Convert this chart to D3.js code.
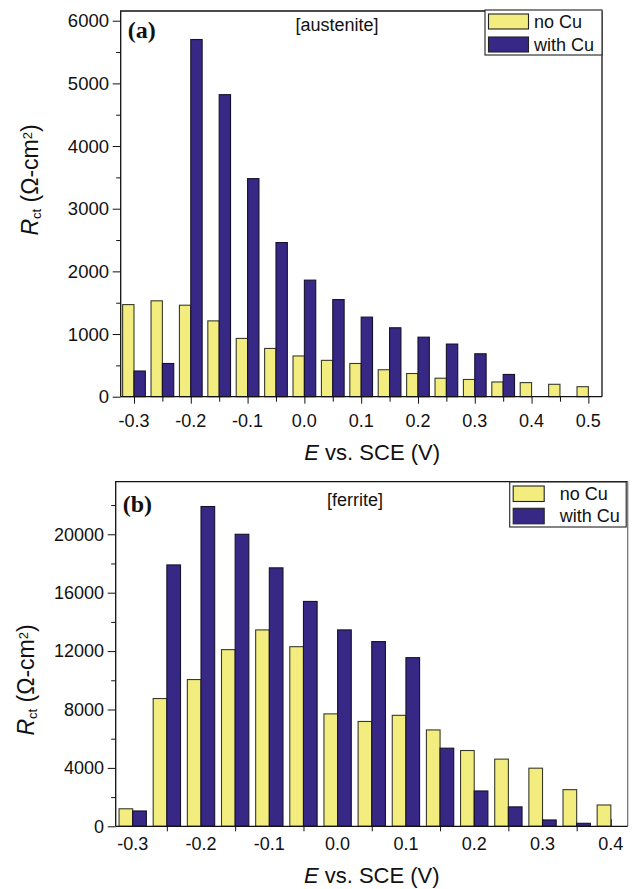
<!DOCTYPE html>
<html lang="en">
<head>
<meta charset="UTF-8">
<title>Rct vs E</title>
<script src="https://cdn.jsdelivr.net/npm/d3@7/dist/d3.min.js"></script>
<style>
  body { margin: 0; background: #fff; }
  svg text { font-family: "Liberation Sans", Arial, Helvetica, sans-serif; fill: #111; }
</style>
</head>
<body>
<script>
// panel (a) austenite
var potA = [-0.3, -0.25, -0.2, -0.15, -0.1, -0.05, 0, 0.05, 0.1, 0.15, 0.2, 0.25, 0.3, 0.35, 0.4, 0.45, 0.5];
var noCuA = [1470, 1530, 1460, 1210, 930, 770, 650, 580, 530, 430, 370, 295, 275, 235, 225, 198, 160];
var withCuA = [410, 530, 5700, 4820, 3480, 2460, 1860, 1550, 1270, 1100, 950, 840, 685, 355, null, null, null];
var xTicksA = [-0.3, -0.2, -0.1, 0.0, 0.1, 0.2, 0.3, 0.4, 0.5];
var yTicksA = [0, 1000, 2000, 3000, 4000, 5000, 6000];

// panel (b) ferrite
var potB = [-0.3, -0.25, -0.2, -0.15, -0.1, -0.05, 0, 0.05, 0.1, 0.15, 0.2, 0.25, 0.3, 0.35, 0.4];
var noCuB = [1200, 8750, 10050, 12100, 13450, 12300, 7700, 7180, 7600, 6600, 5190, 4600, 3980, 2510, 1460];
var withCuB = [1050, 17900, 21900, 20000, 17700, 15400, 13450, 12650, 11550, 5350, 2420, 1330, 434, 206, null];
var xTicksB = [-0.3, -0.2, -0.1, 0.0, 0.1, 0.2, 0.3, 0.4];
var yTicksB = [0, 4000, 8000, 12000, 16000, 20000];

var seriesNames = ["no Cu", "with Cu"];
var colors = ["#f3ec7e", "#372886"];
var barW = 0.02;

var svg = d3.select("body").append("svg")
  .attr("width", 634).attr("height", 889);

function drawPanel(p) {
  var g = svg.append("g");
  var x = d3.scaleLinear().domain(p.xDom).range([p.left, p.right]);
  var y = d3.scaleLinear().domain(p.yDom).range([p.bottom, p.top]);

  // inward major x ticks (b), drawn under the bars
  if (p.majorIn) {
    g.append("g").attr("transform", "translate(0," + p.bottom + ")")
      .call(d3.axisTop(x).tickValues(p.xTicks).tickSize(7).tickFormat(""))
      .call(function (s) { s.select(".domain").remove(); s.selectAll("line").attr("stroke", "#111"); });
  }

  var rows = p.pot.map(function (v, i) { return { e: v, a: p.s1[i], b: p.s2[i] }; });

  g.selectAll("rect.s1").data(rows.filter(function (d) { return d.a; }))
    .enter().append("rect")
    .attr("x", function (d) { return x(d.e - barW); })
    .attr("width", function (d) { return x(d.e) - x(d.e - barW); })
    .attr("y", function (d) { return y(d.a); })
    .attr("height", function (d) { return y(0) - y(d.a); })
    .attr("fill", colors[0]).attr("stroke", "#3a3a2a").attr("stroke-width", 1.1);

  g.selectAll("rect.s2").data(rows.filter(function (d) { return d.b; }))
    .enter().append("rect")
    .attr("x", function (d) { return x(d.e); })
    .attr("width", function (d) { return x(d.e + barW) - x(d.e); })
    .attr("y", function (d) { return y(d.b); })
    .attr("height", function (d) { return y(0) - y(d.b); })
    .attr("fill", colors[1]).attr("stroke", "#15122a").attr("stroke-width", 1.1);

  // frame
  g.append("path")
    .attr("d", "M" + p.left + "," + p.bottom + "V" + p.top + "H" + p.right)
    .attr("fill", "none").attr("stroke", "#111").attr("stroke-width", 1.3);
  g.append("line")
    .attr("x1", p.right).attr("x2", p.right).attr("y1", p.top).attr("y2", p.bottom)
    .attr("stroke", p.rightColor).attr("stroke-width", 1.3);

  // x axis
  var minorX = d3.range(Math.round(p.xTicks[0] * 20), Math.round(p.xTicks[p.xTicks.length - 1] * 20) + 1)
    .map(function (k) { return k / 20; });
  var xa = g.append("g").attr("transform", "translate(0," + p.bottom + ")");
  xa.call(d3.axisBottom(x)
      .tickValues(p.majorIn ? minorX.filter(function (v, i) { return i % 2 === 1; }) : minorX)
      .tickSize(p.majorIn ? 5 : 7).tickFormat(""))
    .call(function (s) {
      s.select(".domain").attr("d", "M" + p.left + ",0H" + p.right).attr("stroke", "#111").attr("stroke-width", 1.3);
      s.selectAll("line").attr("stroke", "#111");
      if (!p.majorIn) s.selectAll(".tick").filter(function (d, i) { return i % 2 === 1; })
        .select("line").attr("y2", 5);
    });
  g.selectAll("text.xl").data(p.xTicks).enter().append("text")
    .attr("x", function (d) { return x(d); })
    .attr("y", p.xLabelY)
    .attr("text-anchor", "middle")
    .style("font-size", "18px")
    .text(function (d) { return d3.format(".1f")(d).replace("−", "-"); });

  // y axis
  var ya = g.append("g").attr("transform", "translate(" + p.left + ",0)");
  ya.call(d3.axisLeft(y).tickValues(d3.range(0, p.yDom[1], p.yMinor)).tickSize(4.5).tickFormat(""))
    .call(function (s) { s.select(".domain").remove(); s.selectAll("line").attr("stroke", "#111"); });
  ya.call(function (s) {
    s.selectAll(".tick").filter(function (d) { return p.yTicks.indexOf(d) >= 0; })
      .select("line").attr("x2", -8);
  });
  g.selectAll("text.yl").data(p.yTicks).enter().append("text")
    .attr("x", p.yLabelX)
    .attr("y", function (d) { return y(d); })
    .attr("dy", "0.35em")
    .attr("text-anchor", "end")
    .style("font-size", p.yFont + "px")
    .text(function (d) { return d; });

  // axis titles
  var xt = g.append("text")
    .attr("x", (x(p.xTicks[0]) + x(p.xTicks[p.xTicks.length - 1])) / 2 + p.titleShift)
    .attr("y", p.xTitleY)
    .attr("text-anchor", "middle")
    .style("font-size", "22px");
  xt.append("tspan").style("font-style", "italic").text("E");
  xt.append("tspan").text(" vs. SCE (V)");

  var yt = g.append("text")
    .attr("transform", "translate(" + p.yTitleX + "," + p.yTitleY + ") rotate(-90)")
    .attr("text-anchor", "middle")
    .style("font-size", "23px");
  yt.append("tspan").style("font-style", "italic").text("R");
  yt.append("tspan").attr("baseline-shift", "-22%").style("font-size", "13px").text("ct");
  yt.append("tspan").text(" (Ω-cm");
  yt.append("tspan").attr("baseline-shift", "50%").style("font-size", "13px").text("2");
  yt.append("tspan").text(")");

  // panel tag and phase label
  g.append("text").attr("x", p.left + 7).attr("y", p.tagY)
    .style("font-family", "'Liberation Serif', 'Times New Roman', serif")
    .style("font-weight", "bold").style("font-size", "24px").text(p.tag);
  g.append("text").attr("x", p.phaseX).attr("y", p.phaseY)
    .attr("text-anchor", "middle").style("font-size", "18px").text(p.phase);

  // legend
  var L = p.legend;
  var lg = g.append("g");
  lg.append("rect").attr("x", L.x).attr("y", L.y).attr("width", L.w).attr("height", L.h)
    .attr("fill", "#fff").attr("stroke", "#333").attr("stroke-width", 1.2);
  seriesNames.forEach(function (name, i) {
    lg.append("rect")
      .attr("x", L.x + 3.5).attr("y", L.y + 4 + i * L.row)
      .attr("width", L.sw).attr("height", L.sh)
      .attr("fill", colors[i]).attr("stroke", "#222").attr("stroke-width", 1.1);
    lg.append("text")
      .attr("x", L.x + L.tx).attr("y", L.y + 18 + i * L.row)
      .style("font-size", "18px").text(name);
  });
}

drawPanel({
  pot: potA, s1: noCuA, s2: withCuA, xTicks: xTicksA, yTicks: yTicksA, yMinor: 500,
  xDom: [-0.3234, 0.524], yDom: [0, 6155],
  left: 120.7, right: 602, top: 11, bottom: 396.7,
  rightColor: "#111", majorIn: false,
  xLabelY: 427, xTitleY: 460, titleShift: 11, yLabelX: 109, yFont: 18.5,
  yTitleX: 38, yTitleY: 180,
  tag: "(a)", tagY: 38, phase: "[austenite]", phaseX: 337, phaseY: 31,
  legend: { x: 485, y: 10, w: 117, h: 45, row: 23, sw: 40, sh: 15, tx: 49 }
});

drawPanel({
  pot: potB, s1: noCuB, s2: withCuB, xTicks: xTicksB, yTicks: yTicksB, yMinor: 2000,
  xDom: [-0.3249, 0.4247], yDom: [0, 23600],
  left: 115.7, right: 627.7, top: 481.7, bottom: 826.3,
  rightColor: "#777", majorIn: true,
  xLabelY: 850, xTitleY: 883, titleShift: 0, yLabelX: 104, yFont: 18,
  yTitleX: 34, yTitleY: 680,
  tag: "(b)", tagY: 512, phase: "[ferrite]", phaseX: 355, phaseY: 506,
  legend: { x: 509.7, y: 482, w: 116.5, h: 45, row: 22.3, sw: 31, sh: 15.5, tx: 50 }
});
</script>
</body>
</html>
